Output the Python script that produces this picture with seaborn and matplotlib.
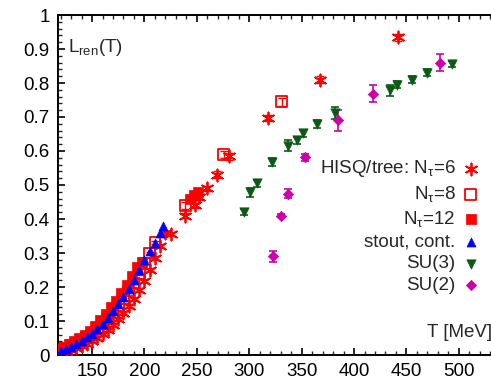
import numpy as np
import matplotlib
matplotlib.use("Agg")
import matplotlib.pyplot as plt
import seaborn as sns
from matplotlib.ticker import MultipleLocator

# ---------------- data ----------------
hisq6_T = [120, 125, 130, 135, 140, 145, 150, 155, 160, 165, 170, 175, 180, 185,
           190, 195, 200, 205, 210, 215, 220, 225, 239, 248, 252, 260, 269, 281,
           318, 367.5, 442]
hisq6_L = [0.008, 0.011, 0.015, 0.020, 0.026, 0.033, 0.041, 0.050, 0.061, 0.074,
           0.089, 0.105, 0.123, 0.143, 0.165, 0.190, 0.218, 0.250, 0.285, 0.320,
           0.360, 0.355, 0.410, 0.440, 0.465, 0.490, 0.530, 0.585, 0.697, 0.810,
           0.935]
hisq6_err = [0.003] * 22 + [0.008, 0.008, 0.008, 0.008, 0.01, 0.01, 0.01, 0.01, 0.01]

hisq8_T = [120, 125, 130, 135, 140, 145, 150, 155, 160, 165, 170, 175, 180, 185,
           190, 195, 200, 205, 210, 239, 275.5, 331]
hisq8_L = [0.015, 0.020, 0.027, 0.034, 0.043, 0.053, 0.064, 0.077, 0.091, 0.107,
           0.125, 0.145, 0.165, 0.188, 0.212, 0.240, 0.270, 0.300, 0.330, 0.440,
           0.590, 0.745]
hisq8_err = [0.004] * 19 + [0.01, 0.01, 0.012]

hisq12_T = [118, 123, 128, 133, 138, 143, 148, 153, 158, 163, 168, 173, 178, 183,
            188, 193, 198, 243, 247, 251]
hisq12_L = [0.020, 0.025, 0.032, 0.040, 0.050, 0.060, 0.072, 0.086, 0.102, 0.120,
            0.140, 0.160, 0.183, 0.207, 0.233, 0.260, 0.275, 0.460, 0.470, 0.478]

stout_T = [120, 125, 130, 135, 140, 145, 150, 155, 160, 165, 170, 175, 180, 185,
           190, 195, 200, 205, 210, 215, 218]
stout_L = [0.012, 0.018, 0.025, 0.033, 0.042, 0.052, 0.063, 0.077, 0.092, 0.110,
           0.130, 0.150, 0.170, 0.195, 0.220, 0.250, 0.280, 0.305, 0.330, 0.360,
           0.380]

su3_T = [295, 301, 307.5, 322, 337, 345.5, 351, 364.5, 382, 434, 441, 455, 470, 493.5]
su3_L = [0.420, 0.478, 0.505, 0.568, 0.616, 0.632, 0.652, 0.680, 0.712, 0.778,
         0.795, 0.810, 0.830, 0.856]
su3_err = [0.008, 0.012, 0.01, 0.012, 0.015, 0.01, 0.01, 0.012, 0.018, 0.015,
           0.01, 0.01, 0.01, 0.008]

su2_T = [322.5, 330, 337, 353, 385, 418, 482]
su2_L = [0.290, 0.410, 0.475, 0.582, 0.690, 0.768, 0.860]
su2_err = [0.015, 0.004, 0.012, 0.01, 0.03, 0.025, 0.025]

labels = ["HISQ/tree: N$_\\mathrm{\\tau}$=6", "N$_\\mathrm{\\tau}$=8",
          "N$_\\mathrm{\\tau}$=12", "stout, cont.", "SU(3)", "SU(2)"]

# ---------------- style ----------------
sns.set_style("ticks")
plt.rcParams["font.family"] = ["Liberation Sans", "DejaVu Sans"]
plt.rcParams["mathtext.fontset"] = "custom"
plt.rcParams["mathtext.rm"] = "Liberation Sans"
plt.rcParams["mathtext.it"] = "Liberation Sans:italic"
plt.rcParams["mathtext.bf"] = "Liberation Sans:bold"

RED = "#ff0000"
BLUE = "#0000ff"
GREEN = "#0a5a14"
MAG = "#cc00aa"
FS = 13.5

fig = plt.figure(figsize=(4.91, 3.82), dpi=100)
ax = fig.add_axes([58 / 491, 27 / 382, 0.9, 340 / 382])

# error bars
ax.errorbar(hisq6_T, hisq6_L, yerr=hisq6_err, fmt="none", ecolor=RED,
            elinewidth=1.0, capsize=3, capthick=1.0, zorder=2)
ax.errorbar(hisq8_T, hisq8_L, yerr=hisq8_err, fmt="none", ecolor=RED,
            elinewidth=1.0, capsize=3, capthick=1.0, zorder=2)
ax.errorbar(su3_T, su3_L, yerr=su3_err, fmt="none", ecolor=GREEN,
            elinewidth=1.2, capsize=3, capthick=1.2, zorder=2)
ax.errorbar(su2_T, su2_L, yerr=su2_err, fmt="none", ecolor=MAG,
            elinewidth=1.2, capsize=3, capthick=1.2, zorder=2)

# markers
sns.scatterplot(x=hisq6_T, y=hisq6_L, ax=ax, marker=(6, 2, 0), s=75,
                color=RED, linewidth=1.3, label=labels[0], zorder=3)
sns.scatterplot(x=hisq8_T, y=hisq8_L, ax=ax, marker="s", s=60,
                facecolor="none", edgecolor=RED, linewidth=1.3,
                label=labels[1], zorder=3)
sns.scatterplot(x=hisq12_T, y=hisq12_L, ax=ax, marker="s", s=60,
                color=RED, edgecolor=RED, linewidth=0.5, label=labels[2], zorder=3)
sns.scatterplot(x=stout_T, y=stout_L, ax=ax, marker="^", s=42,
                color=BLUE, edgecolor=BLUE, linewidth=0.5, label=labels[3], zorder=4)
sns.scatterplot(x=su3_T, y=su3_L, ax=ax, marker="v", s=45,
                color=GREEN, edgecolor=GREEN, linewidth=0.5, label=labels[4], zorder=3)
sns.scatterplot(x=su2_T, y=su2_L, ax=ax, marker="D", s=28,
                color=MAG, edgecolor=MAG, linewidth=0.5, label=labels[5], zorder=3)

# axes
ax.set_xlim(117.5, 539.2)
ax.set_ylim(0, 1)
ax.xaxis.set_major_locator(MultipleLocator(50))
ax.xaxis.set_minor_locator(MultipleLocator(10))
ax.yaxis.set_major_locator(MultipleLocator(0.1))
ax.yaxis.set_minor_locator(MultipleLocator(0.02))
ax.yaxis.set_major_formatter(plt.FuncFormatter(lambda v, p: "0" if abs(v) < 1e-9 else ("1" if abs(v - 1) < 1e-9 else f"{v:.1f}")))
ax.tick_params(axis="both", which="major", direction="in", length=5, width=1.2,
               top=True, right=True, labelsize=FS, pad=6, colors="black")
ax.tick_params(axis="both", which="minor", direction="in", length=3, width=1.0,
               top=True, right=True)
for sp in ax.spines.values():
    sp.set_linewidth(1.4)
    sp.set_color("black")
ax.set_xlabel("")
ax.set_ylabel("")

ax.text(0.022, 0.903, "L$_\\mathrm{ren}$(T)", transform=ax.transAxes,
        fontsize=FS, ha="left", va="center")
ax.text(0.835, 0.065, "T [MeV]", transform=ax.transAxes,
        fontsize=FS, ha="left", va="center")

handles, labs = ax.get_legend_handles_labels()
ax.legend(handles, labs, loc="upper right", bbox_to_anchor=(0.955, 0.578),
          markerfirst=False, frameon=False, fontsize=FS, handletextpad=0.3,
          labelspacing=0.25, handlelength=1.0, borderaxespad=0, borderpad=0)

fig.savefig("out.png", dpi=100)
